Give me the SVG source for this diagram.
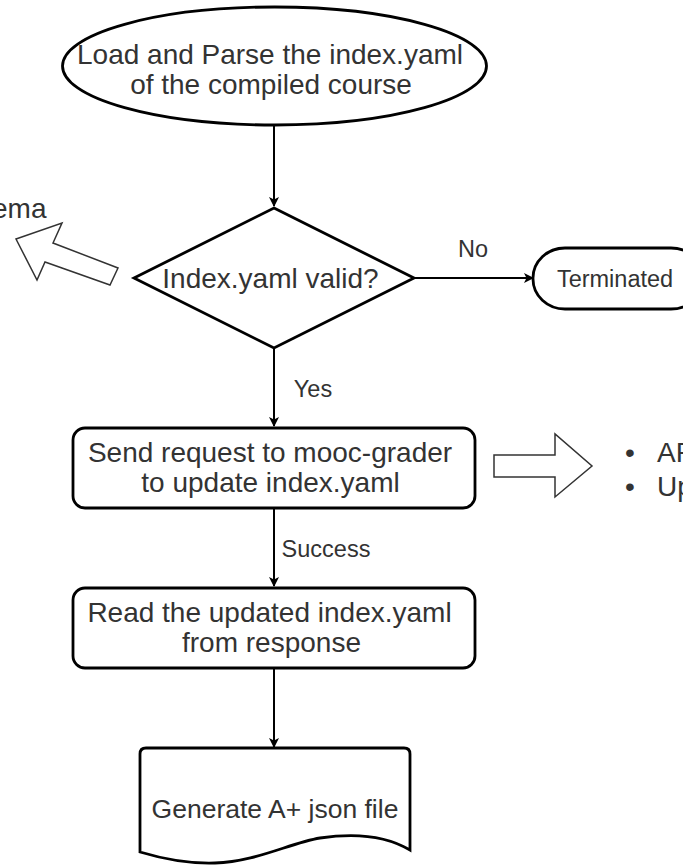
<svg xmlns="http://www.w3.org/2000/svg" width="683" height="865" viewBox="0 0 683 865">
<style>
.shape{fill:#ffffff;stroke:#000000;stroke-width:2.8}
.blk{fill:#ffffff;stroke:#333333;stroke-width:1.5}
.t{font-family:"Liberation Sans",Arial,sans-serif;font-size:28px;fill:#333333;text-anchor:middle}
.lbl{font-family:"Liberation Sans",Arial,sans-serif;font-size:23.5px;fill:#333333;text-anchor:middle}
.st{text-anchor:start}
.edge{fill:none;stroke:#000000;stroke-width:2}
</style>
<defs>
<marker id="ah" markerWidth="10" markerHeight="10" refX="9" refY="5" orient="auto" markerUnits="userSpaceOnUse" viewBox="0 0 10 10">
<path d="M0,0 L10,5 L0,10 L2.5,5 Z" fill="#000000"/>
</marker>
</defs>
<rect width="683" height="865" fill="#ffffff"/>
<g id="connectors">
<line class="edge" x1="274" y1="125" x2="274" y2="206" marker-end="url(#ah)"/>
<line class="edge" x1="414" y1="278" x2="533" y2="278" marker-end="url(#ah)"/>
<line class="edge" x1="274" y1="348" x2="274" y2="426" marker-end="url(#ah)"/>
<line class="edge" x1="274" y1="508" x2="274" y2="586" marker-end="url(#ah)"/>
<line class="edge" x1="274" y1="668" x2="274" y2="747" marker-end="url(#ah)"/>
<text class="lbl" x="473" y="257">No</text>
<text class="lbl" x="313" y="397">Yes</text>
<text class="lbl" x="326" y="557">Success</text>
</g>
<g id="start">
<ellipse class="shape" cx="274.5" cy="66" rx="212" ry="59"/>
<text class="t" x="270" y="64">Load and Parse the index.yaml</text>
<text class="t" x="271" y="94">of the compiled course</text>
</g>
<g id="decision">
<polygon class="shape" points="274,208 414,278 274,348 134,278"/>
<text class="t" x="270.5" y="288">Index.yaml valid?</text>
</g>
<g id="terminated">
<rect class="shape" x="533" y="248" width="170" height="61" rx="32" ry="30"/>
<text class="lbl" x="615" y="287">Terminated</text>
</g>
<g id="schema-arrow">
<polygon class="blk" points="16,239 62,223 53,243 118,268 110,285 45,262 37,280"/>
<text class="t st" x="-8" y="218">ema</text>
</g>
<g id="send">
<rect class="shape" x="73" y="428" width="402" height="80" rx="12" ry="12"/>
<text class="t" x="270" y="462">Send request to mooc-grader</text>
<text class="t" x="270.5" y="492">to update index.yaml</text>
</g>
<g id="notes-arrow">
<polygon class="blk" points="494,455 555,455 555,434 592,466 555,497 555,477 494,477"/>
<text class="t" x="630" y="462">•</text>
<text class="t" x="630" y="496">•</text>
<text class="t st" x="657" y="462">AP</text>
<text class="t st" x="657" y="496">Up</text>
</g>
<g id="read">
<rect class="shape" x="73" y="588" width="402" height="80" rx="12" ry="12"/>
<text class="t" x="269.5" y="622">Read the updated index.yaml</text>
<text class="t" x="271.5" y="652">from response</text>
</g>
<g id="generate">
<path class="shape" d="M140,754 Q140,748 146,748 L404,748 Q410,748 410,754 L410,850 C390,838 360,832 320,838 C290,843 255,862 215,863 C185,864 160,858 140,852 Z"/>
<text class="t" x="275" y="818" style="font-size:26.5px">Generate A+ json file</text>
</g>
</svg>
